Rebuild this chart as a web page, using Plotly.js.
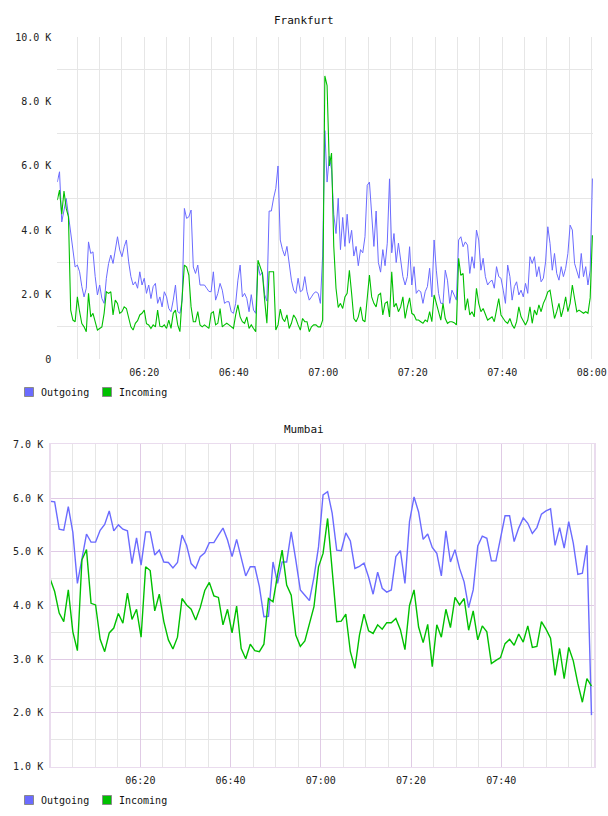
<!DOCTYPE html>
<html>
<head>
<meta charset="utf-8">
<script src="https://cdn.plot.ly/plotly-3.0.1.min.js"></script>
<style>
  html, body { margin: 0; padding: 0; background: #fff; }
  #chart { width: 608px; height: 816px; }
</style>
</head>
<body>
<div id="chart"></div>
<script>
// ---- Data (traffic in thousands) ----
const seriesNames = ['Outgoing', 'Incoming'];
const seriesColors = ['#6b6bff', '#00c000'];

// Frankfurt: 30-second samples from 06:00:33
const frankfurtStart = [2024, 0, 1, 6, 0, 33];
const frankfurtStepSec = 29.9;
const frankfurtOutgoing = [
  5.50,5.82,4.26,4.68,4.99,4.47,3.90,3.49,2.86,2.92,
  2.71,2.25,1.93,2.20,3.64,3.28,3.33,2.56,1.99,2.30,
  1.88,1.73,2.51,2.97,3.23,2.97,3.39,3.80,3.39,3.18,
  3.49,3.70,3.02,2.56,2.30,2.40,2.20,2.71,2.30,2.51,
  2.04,2.30,1.88,2.25,2.35,1.73,1.93,1.62,2.09,1.93,
  1.57,1.47,1.83,2.30,1.47,1.42,1.83,4.68,4.37,4.42,
  4.63,2.86,2.66,2.92,2.30,2.30,2.30,2.20,2.10,2.09,
  2.71,1.83,2.04,2.35,2.14,1.73,1.78,1.78,1.47,1.42,
  1.73,2.45,2.92,1.93,2.04,1.88,1.47,2.00,1.52,1.42,
  2.90,2.60,2.70,2.00,1.80,4.60,4.60,5.00,5.30,6.00,
  3.70,3.40,3.20,3.50,2.90,2.45,2.14,2.04,2.51,2.09,
  2.14,2.56,2.09,1.83,1.93,2.04,2.09,2.04,1.73,3.20,
  7.10,5.50,6.30,5.90,4.50,3.90,5.00,3.40,4.40,3.50,
  4.50,3.60,4.00,3.20,3.50,2.90,3.40,3.30,3.80,5.40,
  5.50,4.30,3.50,4.60,3.00,2.70,3.40,2.90,3.60,5.60,
  3.30,3.90,3.00,3.60,3.02,2.56,2.30,2.56,3.49,2.30,
  2.87,2.04,2.14,2.09,1.73,2.09,2.25,2.82,1.93,3.70,
  2.76,2.04,1.73,1.73,2.76,2.45,1.73,2.14,1.99,1.83,
  3.70,3.80,3.49,3.64,3.54,2.66,3.18,2.82,4.01,3.70,
  2.76,3.13,2.56,2.30,2.40,2.45,2.20,2.87,2.56,2.51,
  2.14,1.73,2.92,2.56,1.83,2.25,2.40,1.99,2.14,1.93,
  2.35,2.04,3.18,2.97,3.18,2.56,2.87,2.40,2.51,3.02,
  4.11,3.59,2.76,3.28,2.66,2.45,2.87,2.56,2.82,3.28,
  4.16,4.01,2.97,2.71,2.51,3.28,2.56,2.87,2.30,2.76,
  5.61
];
const frankfurtIncoming = [
  4.94,5.25,4.50,5.22,4.68,4.42,1.52,1.21,1.16,1.93,
  1.47,1.10,1.00,0.85,2.04,1.31,1.42,1.11,0.90,0.95,
  1.00,1.42,2.09,2.04,2.09,1.37,1.83,1.73,1.42,1.47,
  1.62,1.57,1.31,1.00,0.90,1.11,1.19,1.37,1.42,1.52,
  1.10,1.06,0.95,1.06,1.00,1.52,1.02,1.00,1.06,0.95,
  1.21,0.95,1.42,1.52,1.06,0.85,1.93,2.92,2.86,2.61,
  1.62,1.16,1.16,1.47,1.06,1.00,1.06,1.00,0.95,1.42,
  1.47,1.06,1.11,1.57,1.00,1.06,1.11,1.06,1.00,0.95,
  1.37,1.68,1.31,1.16,1.11,1.31,0.95,1.06,0.95,0.85,
  3.07,2.86,2.66,1.83,1.11,2.71,2.71,2.71,0.90,1.06,
  1.55,1.26,1.16,1.37,0.95,1.11,1.37,1.26,1.06,0.90,
  1.26,1.16,1.16,0.85,1.00,1.06,1.06,1.00,1.00,1.21,
  8.80,8.50,6.00,6.40,3.50,2.20,1.60,1.73,1.57,1.93,
  2.04,2.76,2.04,1.26,1.16,1.31,1.62,1.21,1.16,1.83,
  2.61,1.93,1.73,1.62,1.99,2.04,1.37,1.73,1.78,1.31,
  2.71,1.62,1.73,1.47,1.62,1.93,1.26,1.62,1.90,1.42,
  1.37,1.21,1.21,1.16,1.11,1.21,1.16,1.47,1.16,1.99,
  1.73,1.47,1.21,1.73,1.26,1.11,1.16,1.16,1.13,1.06,
  3.13,2.60,2.66,1.52,1.88,1.37,1.47,1.31,2.20,1.73,
  1.47,1.57,1.37,1.21,1.26,1.31,1.16,1.47,1.88,1.37,
  1.26,1.16,1.11,1.26,1.06,0.95,1.16,1.62,1.31,1.16,
  1.06,1.21,1.62,1.11,1.52,1.37,1.68,1.47,1.73,1.88,
  2.09,2.14,1.68,1.26,1.47,1.73,1.31,1.57,1.93,1.47,
  1.73,2.30,1.88,1.47,1.52,1.47,1.42,1.47,1.42,1.90,
  3.85
];

// Mumbai: samples from 06:00:00 onward
const mumbaiStart = [2024, 0, 1, 6, 0, 0];
const mumbaiStepSec = 60.5;
const mumbaiOutgoing = [
  5.94,5.93,5.42,5.40,5.84,5.36,4.41,4.91,5.33,5.18,
  5.18,5.40,5.51,5.76,5.39,5.50,5.42,5.39,4.78,5.26,
  4.75,5.37,5.37,4.94,5.03,4.81,4.80,4.70,4.80,5.31,
  5.12,4.78,4.69,4.91,4.98,5.17,5.17,5.31,5.44,5.22,
  4.91,5.23,4.88,4.55,4.72,4.72,4.35,3.79,3.80,4.81,
  4.41,4.81,4.81,5.37,4.85,4.29,4.19,4.09,4.53,5.09,
  6.06,6.12,5.72,5.03,5.02,5.35,5.20,4.69,4.73,4.79,
  4.53,4.21,4.62,4.32,4.25,4.29,4.91,5.02,4.41,5.56,
  6.02,5.74,5.23,5.33,5.08,4.97,4.55,5.39,4.81,5.04,
  4.69,4.44,3.96,4.29,5.11,5.29,5.25,4.83,4.83,5.25,
  5.67,5.67,5.19,5.44,5.63,5.53,5.34,5.45,5.70,5.76,
  5.80,5.12,5.45,5.07,5.56,5.16,4.58,4.60,5.12,1.96
];
const mumbaiIncoming = [
  4.50,4.26,3.86,3.70,4.29,3.51,3.16,4.85,5.04,4.04,
  4.01,3.37,3.14,3.49,3.58,3.85,3.67,4.23,3.74,3.93,
  3.41,4.72,4.65,3.90,4.21,3.70,3.36,3.19,3.41,4.13,
  4.01,3.93,3.73,3.96,4.28,4.43,4.18,4.15,3.64,3.93,
  3.49,3.99,3.20,3.01,3.28,3.16,3.14,3.28,4.13,4.07,
  4.57,5.03,4.38,4.19,3.45,3.24,3.34,3.67,3.98,4.72,
  4.97,5.62,4.72,3.70,3.71,3.84,3.14,2.83,3.45,3.84,
  3.53,3.48,3.64,3.56,3.68,3.68,3.76,3.55,3.18,4.00,
  4.29,3.60,3.31,3.65,2.86,3.64,3.41,3.93,3.59,4.15,
  4.01,4.13,3.54,3.90,3.36,3.62,3.51,2.92,2.98,3.03,
  3.29,3.37,3.26,3.47,3.32,3.62,3.22,3.24,3.70,3.56,
  3.39,2.70,3.20,2.64,3.22,2.97,2.55,2.20,2.64,2.50
];

// Axis ticks
const timeTicks = ['06:20', '06:40', '07:00', '07:20', '07:40', '08:00'];
const frankfurtYTicks = [0, 2, 4, 6, 8, 10];
const mumbaiYTicks = [1, 2, 3, 4, 5, 6, 7];

// ---- Helpers ----
const DAY = '2024-01-01 ';
function fmt(ms) {
  return new Date(ms).toISOString().replace('T', ' ').replace('Z', '');
}
function timeline(start, stepSec, n) {
  const t0 = Date.UTC.apply(null, start);
  const out = [];
  for (let i = 0; i < n; i++) out.push(fmt(t0 + Math.round(i * stepSec * 1000)));
  return out;
}
function kLabel(v) { return v === 0 ? '0' : v.toFixed(1) + ' K'; }

const fTimes = timeline(frankfurtStart, frankfurtStepSec, frankfurtOutgoing.length);
const mTimes = timeline(mumbaiStart, mumbaiStepSec, mumbaiOutgoing.length);

const W = 608, H = 816;
const px = v => v / W;
const py = v => 1 - v / H;

const mono = 'DejaVu Sans Mono, monospace';
const tickFont = { family: mono, size: 10, color: '#222' };

const traces = [
  { x: fTimes, y: frankfurtOutgoing, name: seriesNames[0], xaxis: 'x', yaxis: 'y',
    type: 'scatter', mode: 'lines', line: { color: seriesColors[0], width: 1 } },
  { x: fTimes, y: frankfurtIncoming, name: seriesNames[1], xaxis: 'x', yaxis: 'y',
    type: 'scatter', mode: 'lines', line: { color: seriesColors[1], width: 1.1 } },
  { x: mTimes, y: mumbaiOutgoing, name: seriesNames[0], xaxis: 'x2', yaxis: 'y2',
    type: 'scatter', mode: 'lines', line: { color: seriesColors[0], width: 1.4 } },
  { x: mTimes, y: mumbaiIncoming, name: seriesNames[1], xaxis: 'x2', yaxis: 'y2',
    type: 'scatter', mode: 'lines', line: { color: seriesColors[1], width: 1.4 } }
];

const gridGray = '#e6e6e6';
const gridPurple = '#e0cbe5';

// Legend swatches and labels, one row under each panel
const legendRows = [392, 800];
const shapes = [];
const annotations = [];
legendRows.forEach(cy => {
  const items = [{ x: 24.5, label: seriesNames[0], color: seriesColors[0] },
                 { x: 102.5, label: seriesNames[1], color: seriesColors[1] }];
  items.forEach(it => {
    shapes.push({ type: 'rect', xref: 'paper', yref: 'paper',
      x0: px(it.x), x1: px(it.x + 9), y0: py(cy + 4.5), y1: py(cy - 4.5),
      fillcolor: it.color, line: { color: '#8a8a8a', width: 1 } });
    annotations.push({ xref: 'paper', yref: 'paper', x: px(it.x + 14), y: py(cy),
      xanchor: 'left', yanchor: 'middle', showarrow: false, text: it.label,
      font: { family: mono, size: 10, color: '#111' } });
  });
});
annotations.push({ xref: 'paper', yref: 'paper', x: px(304), y: py(20), xanchor: 'center',
  yanchor: 'middle', showarrow: false, text: 'Frankfurt', font: { family: mono, size: 11, color: '#111' } });
annotations.push({ xref: 'paper', yref: 'paper', x: px(304), y: py(429), xanchor: 'center',
  yanchor: 'middle', showarrow: false, text: 'Mumbai', font: { family: mono, size: 11, color: '#111' } });

const layout = {
  width: W, height: H,
  margin: { l: 0, r: 0, t: 0, b: 0 },
  paper_bgcolor: '#fff', plot_bgcolor: '#fff',
  showlegend: false,
  xaxis: {
    domain: [px(57.3), px(593.3)], anchor: 'y', type: 'date',
    range: [DAY + '06:00:33', DAY + '08:00:21'],
    tickmode: 'array', tickvals: timeTicks.map(t => DAY + t), ticktext: timeTicks,
    showgrid: true, gridcolor: gridGray, gridwidth: 1,
    minor: { tick0: DAY + '06:00', dtick: 300000, showgrid: true, gridcolor: gridGray, gridwidth: 1 },
    zeroline: false, showline: false, ticks: '', ticklabelstandoff: 6,
    tickfont: tickFont, fixedrange: true
  },
  yaxis: {
    domain: [py(359), py(37.3)], anchor: 'x', range: [0, 10],
    tickmode: 'array', tickvals: frankfurtYTicks, ticktext: frankfurtYTicks.map(kLabel),
    showgrid: false,
    minor: { tick0: 1, dtick: 2, showgrid: true, gridcolor: gridGray, gridwidth: 1 },
    zeroline: false, showline: false, ticks: '', ticklabelstandoff: 5,
    tickfont: tickFont, fixedrange: true
  },
  xaxis2: {
    domain: [px(50.7), px(594)], anchor: 'y2', type: 'date',
    range: [DAY + '06:00:08', DAY + '08:00:33'],
    tickmode: 'array', tickvals: timeTicks.slice(0, 5).map(t => DAY + t), ticktext: timeTicks.slice(0, 5),
    showgrid: true, gridcolor: gridPurple, gridwidth: 1,
    minor: { tick0: DAY + '06:00', dtick: 300000, showgrid: true, gridcolor: gridGray, gridwidth: 1 },
    zeroline: false, showline: true, mirror: true, linecolor: '#eadcee', linewidth: 1.5,
    ticks: '', ticklabelstandoff: 4, tickfont: tickFont, fixedrange: true
  },
  yaxis2: {
    domain: [py(766.7), py(444.3)], anchor: 'x2', range: [1, 7],
    tickmode: 'array', tickvals: mumbaiYTicks, ticktext: mumbaiYTicks.map(kLabel),
    showgrid: true, gridcolor: gridPurple, gridwidth: 1,
    minor: { tick0: 1.5, dtick: 1, showgrid: true, gridcolor: gridGray, gridwidth: 1 },
    zeroline: false, showline: true, mirror: true, linecolor: '#eadcee', linewidth: 1.5,
    ticks: '', ticklabelstandoff: 4, tickfont: tickFont, fixedrange: true
  },
  shapes: shapes,
  annotations: annotations
};

Plotly.newPlot('chart', traces, layout, { staticPlot: true, displayModeBar: false });
</script>
</body>
</html>
